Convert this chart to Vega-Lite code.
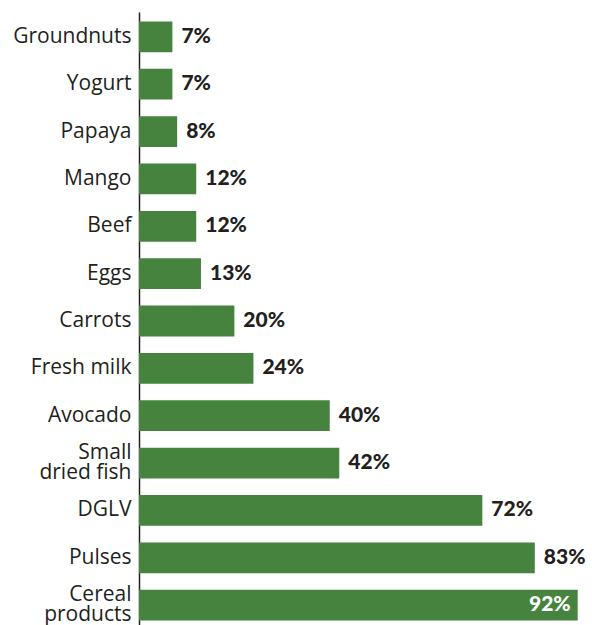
{
  "$schema": "https://vega.github.io/schema/vega-lite/v6.json",
  "autosize": {"type": "none"},
  "width": 453,
  "height": 618,
  "padding": {"left": 139, "top": 12, "right": 0, "bottom": 0},
  "background": "white",
  "config": {"view": {"stroke": null}},
  "data": {
    "values": [
      {"food": "Groundnuts", "pct": 7},
      {"food": "Yogurt", "pct": 7},
      {"food": "Papaya", "pct": 8},
      {"food": "Mango", "pct": 12},
      {"food": "Beef", "pct": 12},
      {"food": "Eggs", "pct": 13},
      {"food": "Carrots", "pct": 20},
      {"food": "Fresh milk", "pct": 24},
      {"food": "Avocado", "pct": 40},
      {"food": "Small|dried fish", "pct": 42},
      {"food": "DGLV", "pct": 72},
      {"food": "Pulses", "pct": 83},
      {"food": "Cereal|products", "pct": 92}
    ]
  },
  "transform": [{"calculate": "datum.pct + '%'", "as": "label"}],
  "encoding": {
    "y": {
      "field": "food",
      "type": "nominal",
      "sort": null,
      "scale": {"paddingInner": 0.35, "paddingOuter": 0.2},
      "axis": {
        "title": null,
        "ticks": false,
        "domainColor": "#231f20",
        "domainWidth": 1.5,
        "labelFont": "Open Sans",
        "labelFontSize": 21,
        "labelColor": "#231f20",
        "labelPadding": 8,
        "labelLineHeight": 20,
        "labelOffset": {"condition": {"test": "indexof(datum.value, '|') >= 0", "value": -10}, "value": 0},
        "labelExpr": "split(datum.label, '|')"
      }
    },
    "x": {
      "field": "pct",
      "type": "quantitative",
      "scale": {"domain": [0, 95]},
      "axis": null
    }
  },
  "layer": [
    {"mark": {"type": "bar", "color": "#45833f"}},
    {
      "transform": [{"filter": "datum.pct < 90"}],
      "mark": {"type": "text", "align": "left", "baseline": "middle", "dx": 9, "font": "Lato", "fontWeight": 900, "fontSize": 21, "color": "#231f20"},
      "encoding": {"text": {"field": "label", "type": "nominal"}}
    },
    {
      "transform": [{"filter": "datum.pct >= 90"}],
      "mark": {"type": "text", "align": "right", "baseline": "middle", "dx": -7, "font": "Lato", "fontWeight": 900, "fontSize": 21, "color": "white"},
      "encoding": {"text": {"field": "label", "type": "nominal"}}
    }
  ]
}
